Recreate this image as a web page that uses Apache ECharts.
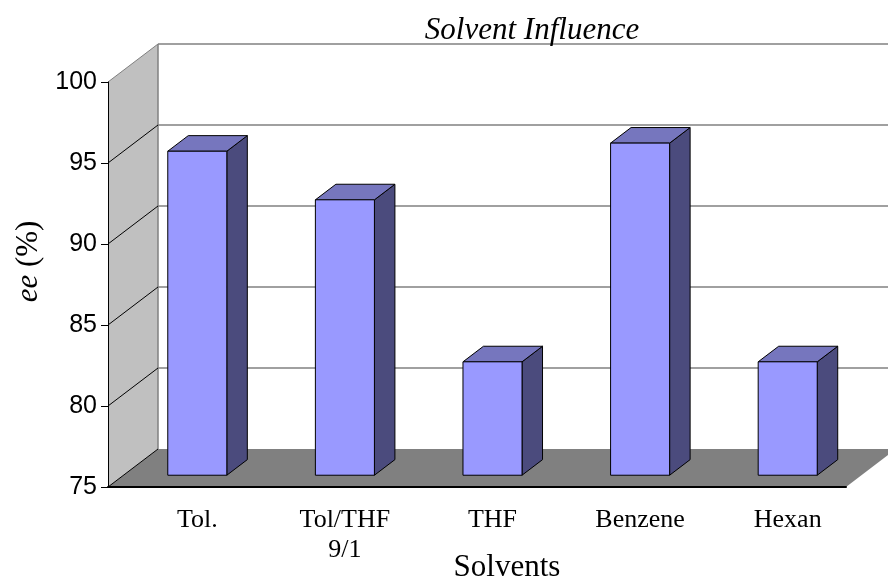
<!DOCTYPE html>
<html>
<head>
<meta charset="utf-8">
<script src="https://cdn.jsdelivr.net/npm/echarts@6/dist/echarts.min.js"></script>
<style>
  html, body { margin: 0; padding: 0; background: #fff; }
  #chart { width: 888px; height: 580px; }
</style>
</head>
<body>
<div id="chart"></div>
<script>
// Enantiomeric excess obtained in each solvent
const solvents = ['Tol.', 'Tol/THF\n9/1', 'THF', 'Benzene', 'Hexan'];
const eeValues = [95, 92, 82, 95.5, 82];

// Value axis range and tick step
const axisMin = 75;
const axisMax = 100;
const axisStep = 5;
const gridValues = [75, 80, 85, 90, 95, 100];

// Oblique projection of the depth direction (pixels for the full depth)
const DEPTH_X = 50;
const DEPTH_Y = -38;
const BAR_FRONT = 0.31;   // bar front face, as a fraction of the depth
const BAR_BACK = 0.72;    // bar back face
const BAR_WIDTH = 0.40;   // fraction of the category band

const SERIF = "'Liberation Serif', 'Times New Roman', serif";
const SANS = "'Liberation Sans', Arial, sans-serif";

const chart = echarts.init(document.getElementById('chart'), null, { renderer: 'canvas' });

// Walls, floor and back-wall grid lines of the 3-D box
function renderWalls(params, api) {
  const n = solvents.length;
  const left = api.coord([0, axisMin])[0] - api.size([1, 0])[0] / 2;
  const right = api.coord([n - 1, axisMin])[0] + api.size([1, 0])[0] / 2;
  const yBottom = api.coord([0, axisMin])[1];
  const yTop = api.coord([0, axisMax])[1];
  const children = [];

  // left side wall
  children.push({
    type: 'polygon',
    shape: { points: [[left, yTop], [left + DEPTH_X, yTop + DEPTH_Y], [left + DEPTH_X, yBottom + DEPTH_Y], [left, yBottom]] },
    style: { fill: '#c0c0c0', stroke: null }
  });
  // floor
  children.push({
    type: 'polygon',
    shape: { points: [[left, yBottom], [right, yBottom], [right + DEPTH_X, yBottom + DEPTH_Y], [left + DEPTH_X, yBottom + DEPTH_Y]] },
    style: { fill: '#808080', stroke: null }
  });
  // back wall left edge
  children.push({
    type: 'line',
    shape: { x1: left + DEPTH_X, y1: yTop + DEPTH_Y, x2: left + DEPTH_X, y2: yBottom + DEPTH_Y },
    style: { stroke: '#808080', lineWidth: 1.5 }
  });
  gridValues.forEach(function (v) {
    const y = api.coord([0, v])[1];
    // grid line on the back wall
    if (v !== axisMin) {
      children.push({
        type: 'line',
        shape: { x1: left + DEPTH_X, y1: y + DEPTH_Y, x2: right + DEPTH_X, y2: y + DEPTH_Y },
        style: { stroke: '#808080', lineWidth: 1.5 }
      });
    }
    // diagonal on the side wall
    children.push({
      type: 'line',
      shape: { x1: left, y1: y, x2: left + DEPTH_X, y2: y + DEPTH_Y },
      style: { stroke: v === axisMax ? '#808080' : '#000', lineWidth: 1 }
    });
  });
  return { type: 'group', children: children };
}

// A single 3-D column: front, top and right side faces
function renderBar(params, api) {
  const idx = api.value(0);
  const val = api.value(1);
  const base = api.coord([idx, axisMin]);
  const top = api.coord([idx, val]);
  const bw = api.size([1, 0])[0] * BAR_WIDTH;
  const x0 = base[0] - bw / 2 + DEPTH_X * BAR_FRONT;
  const x1 = x0 + bw;
  const yb = base[1] + DEPTH_Y * BAR_FRONT;
  const yt = top[1] + DEPTH_Y * BAR_FRONT;
  const dx = DEPTH_X * (BAR_BACK - BAR_FRONT);
  const dy = DEPTH_Y * (BAR_BACK - BAR_FRONT);
  const edge = { stroke: '#000', lineWidth: 1, lineJoin: 'round' };
  return {
    type: 'group',
    children: [
      { type: 'polygon', shape: { points: [[x1, yt], [x1 + dx, yt + dy], [x1 + dx, yb + dy], [x1, yb]] },
        style: Object.assign({ fill: '#4b4b7d' }, edge) },
      { type: 'polygon', shape: { points: [[x0, yt], [x1, yt], [x1 + dx, yt + dy], [x0 + dx, yt + dy]] },
        style: Object.assign({ fill: '#7676be' }, edge) },
      { type: 'rect', shape: { x: x0, y: yt, width: bw, height: yb - yt },
        style: Object.assign({ fill: '#9999ff' }, edge) }
    ]
  };
}

const option = {
  animation: false,
  backgroundColor: '#fff',
  title: {
    text: 'Solvent Influence',
    left: 532,
    top: 15,
    textAlign: 'center',
    padding: 0,
    textStyle: { fontFamily: SERIF, fontStyle: 'italic', fontWeight: 'normal', fontSize: 31, color: '#000' }
  },
  grid: { left: 108, right: 42, top: 82, bottom: 93, containLabel: false, outerBoundsMode: 'none' },
  xAxis: {
    type: 'category',
    data: solvents,
    z: 10,
    name: 'Solvents',
    nameLocation: 'middle',
    nameGap: 65,
    nameMoveOverlap: false,
    nameTextStyle: { fontFamily: SERIF, fontSize: 31, color: '#000', padding: [0, 0, 0, 60] },
    axisLine: { show: true, lineStyle: { color: '#000', width: 2 } },
    axisTick: { show: false },
    splitLine: { show: false },
    axisLabel: {
      interval: 0,
      margin: 18,
      fontFamily: SERIF,
      fontSize: 26,
      lineHeight: 30,
      color: '#000',
      padding: [0, 0, 0, 31]
    }
  },
  yAxis: {
    type: 'value',
    min: axisMin,
    max: axisMax,
    interval: axisStep,
    z: 10,
    name: '{i|ee} (%)',
    nameLocation: 'middle',
    nameRotate: 90,
    nameGap: 64,
    nameMoveOverlap: false,
    nameTextStyle: {
      fontFamily: SERIF, fontSize: 31, color: '#000', padding: [0, 0, 0, 46],
      rich: { i: { fontFamily: SERIF, fontSize: 31, fontStyle: 'italic', color: '#000' } }
    },
    axisLine: { show: true, lineStyle: { color: '#000', width: 1 } },
    axisTick: { show: true, length: 7, lineStyle: { color: '#000', width: 1 } },
    splitLine: { show: false },
    axisLabel: { margin: 11, fontFamily: SANS, fontSize: 25, color: '#000' }
  },
  series: [
    {
      type: 'custom',
      name: 'walls',
      z: 1,
      silent: true,
      clip: false,
      renderItem: renderWalls,
      data: [[0, axisMin]]
    },
    {
      type: 'custom',
      name: 'ee',
      z: 2,
      clip: false,
      renderItem: renderBar,
      encode: { x: 0, y: 1 },
      data: eeValues.map(function (v, i) { return [i, v]; })
    }
  ]
};

chart.setOption(option);
</script>
</body>
</html>
